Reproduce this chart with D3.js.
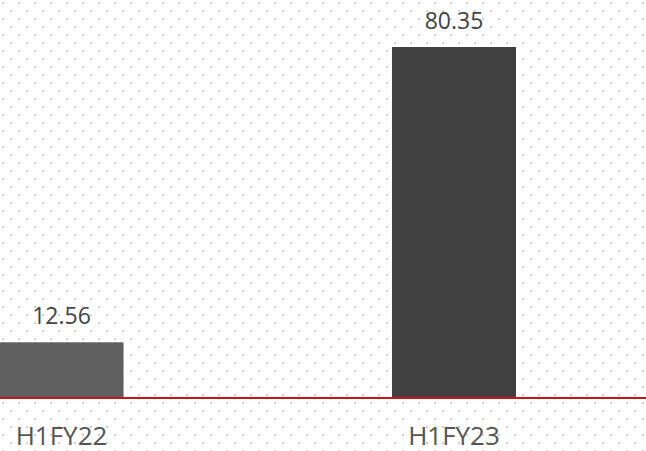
<!DOCTYPE html>
<html>
<head>
<meta charset="utf-8">
<script src="https://cdn.jsdelivr.net/npm/d3@7"></script>
<style>
  html, body { margin: 0; padding: 0; background: #fff; }
  svg { display: block; }
</style>
</head>
<body>
<svg id="chart" width="646" height="451"></svg>
<script>
const categories = ["H1FY22", "H1FY23"];
const values = [12.56, 80.35];
const barColors = ["#5f5f5f", "#404040"];

const W = 646, H = 451;
const baseY = 397;

const svg = d3.select("#chart");

// dotted backdrop: staggered 2px dots on a 16px grid
const defs = svg.append("defs");
const pat = defs.append("pattern")
  .attr("id", "dots")
  .attr("patternUnits", "userSpaceOnUse")
  .attr("width", 16).attr("height", 16);
pat.append("rect").attr("x", 2).attr("y", 2).attr("width", 2).attr("height", 2).attr("fill", "#cfcfcf");
pat.append("rect").attr("x", 10).attr("y", 10).attr("width", 2).attr("height", 2).attr("fill", "#cfcfcf");
svg.append("rect").attr("width", W).attr("height", H).attr("fill", "url(#dots)");

const x = d3.scaleBand()
  .domain(categories)
  .range([-0.5, 516])
  .paddingInner(0.684)
  .paddingOuter(0);

const y = d3.scaleLinear()
  .domain([0, 80.35])
  .range([baseY, 47]);

const data = categories.map((c, i) => ({ c, v: values[i], color: barColors[i] }));

svg.append("g").selectAll("rect")
  .data(data)
  .join("rect")
  .attr("x", d => x(d.c))
  .attr("y", d => y(d.v))
  .attr("width", x.bandwidth())
  .attr("height", d => y(0) - y(d.v))
  .attr("fill", d => d.color);

// value labels
svg.append("g").selectAll("text")
  .data(data)
  .join("text")
  .attr("x", d => x(d.c) + x.bandwidth() / 2)
  .attr("y", d => y(d.v) - 18)
  .attr("text-anchor", "middle")
  .attr("font-family", "'Open Sans', sans-serif")
  .attr("font-size", 23)
  .attr("fill", "#444")
  .text(d => d.v.toFixed(2));

// baseline
svg.append("line")
  .attr("x1", 0).attr("x2", W)
  .attr("y1", baseY + 1).attr("y2", baseY + 1)
  .attr("stroke", "#c8161d")
  .attr("stroke-width", 2);

// category axis
const axis = d3.axisBottom(x).tickSize(0).tickPadding(0);
const gx = svg.append("g").attr("transform", `translate(0,${baseY})`).call(axis);
gx.select(".domain").remove();
gx.selectAll("text")
  .attr("dy", null)
  .attr("y", 48)
  .attr("font-family", "'Open Sans', sans-serif")
  .attr("font-size", 26)
  .attr("fill", "#555");
</script>
</body>
</html>
